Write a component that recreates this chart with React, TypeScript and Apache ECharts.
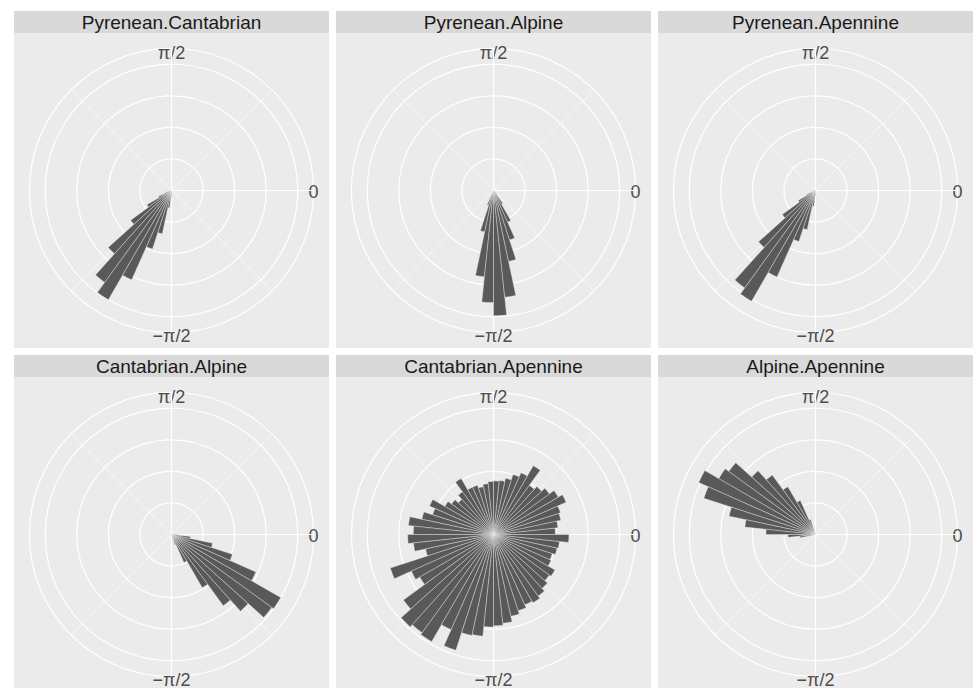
import React, { useEffect, useRef } from 'react';
import * as echarts from 'echarts';

const FONT = '"Liberation Sans", Arial, Helvetica, sans-serif';

// facet strip titles
const panelNames = [
  'Pyrenean.Cantabrian',
  'Pyrenean.Alpine',
  'Pyrenean.Apennine',
  'Cantabrian.Alpine',
  'Cantabrian.Apennine',
  'Alpine.Apennine',
];

// 60 angular bins of 6 degrees; category = bin centre in degrees (-177 ... 177)
const binCenters = Array.from({ length: 60 }, (_, i) => String(-177 + 6 * i));

// theta tick breaks (degrees) and their labels
const thetaBreaks = [-90, 0, 90];
const thetaLabels = ['−π/2', '0', 'π/2'];
const thetaLabelStyle = ['b', 'r', 't'];

// radius grid breaks (circles) and outer limit
const radiusMax = 4.5;
const radiusStep = 1;

// bar heights per bin (bin order -177 ... 177)
const pyreneanCantabrian = [
  0, 0, 0, 0.2, 0.45, 0.9, 1.6, 2.7, 3.6, 4.0,
  3.1, 1.95, 1.4, 0.55, 0.2, 0, 0, 0, 0, 0,
  0, 0, 0, 0, 0, 0, 0, 0, 0, 0,
  0, 0, 0, 0, 0, 0, 0, 0, 0, 0,
  0, 0, 0, 0, 0, 0, 0, 0, 0, 0,
  0, 0, 0, 0, 0, 0, 0, 0, 0, 0,
];
const pyreneanAlpine = [
  0, 0, 0, 0, 0, 0, 0, 0, 0, 0,
  0, 0.5, 1.34, 2.75, 3.55, 3.97, 3.4, 2.3, 1.65, 1.1,
  0.5, 0.15, 0, 0, 0, 0, 0, 0, 0, 0,
  0, 0, 0, 0, 0, 0, 0, 0, 0, 0,
  0, 0, 0, 0, 0, 0, 0, 0, 0, 0,
  0, 0, 0, 0, 0, 0, 0, 0, 0, 0,
];
const pyreneanApennine = [
  0, 0, 0, 0, 0.3, 0.63, 1.3, 2.43, 3.82, 4.05,
  3.0, 1.7, 1.27, 0.5, 0.15, 0, 0, 0, 0, 0,
  0, 0, 0, 0, 0, 0, 0, 0, 0, 0,
  0, 0, 0, 0, 0, 0, 0, 0, 0, 0,
  0, 0, 0, 0, 0, 0, 0, 0, 0, 0,
  0, 0, 0, 0, 0, 0, 0, 0, 0, 0,
];
const cantabrianAlpine = [
  0, 0, 0, 0, 0, 0, 0, 0, 0, 0,
  0, 0, 0, 0, 0, 0, 0, 0, 0.35, 0.97,
  1.95, 2.79, 3.27, 3.93, 4.0, 2.93, 2.03, 1.33, 0.6, 0.2,
  0, 0, 0, 0, 0, 0, 0, 0, 0, 0,
  0, 0, 0, 0, 0, 0, 0, 0, 0, 0,
  0, 0, 0, 0, 0, 0, 0, 0, 0, 0,
];
const cantabrianApennine = [
  2.72, 2.55, 2.2, 3.44, 2.85, 2.7, 3.53, 3.94, 3.85, 3.92,
  3.3, 3.86, 3.27, 3.24, 2.93, 2.89, 2.83, 2.65, 2.54, 2.44,
  2.5, 2.41, 2.3, 2.19, 2.25, 2.0, 1.96, 2.06, 2.1, 2.39,
  1.96, 2.05, 2.18, 2.23, 2.52, 2.37, 2.19, 2.05, 1.93, 2.52,
  2.14, 2.0, 1.82, 1.72, 1.7, 1.68, 1.62, 1.55, 1.64, 1.64,
  2.05, 1.67, 1.5, 1.64, 1.78, 2.22, 2.03, 2.32, 2.71, 2.54,
];
const alpineApennine = [
  0.87, 0.5, 0, 0, 0, 0, 0, 0, 0, 0,
  0, 0, 0, 0, 0, 0, 0, 0, 0, 0,
  0, 0, 0, 0, 0, 0, 0, 0, 0, 0,
  0, 0, 0, 0, 0, 0, 0, 0, 0, 0,
  0, 0, 0, 0, 0, 0, 0, 0, 0.5, 1.18,
  1.75, 2.33, 2.72, 3.4, 3.54, 4.05, 3.72, 2.8, 2.25, 1.57,
];

const panelValues = [
  pyreneanCantabrian,
  pyreneanAlpine,
  pyreneanApennine,
  cantabrianAlpine,
  cantabrianApennine,
  alpineApennine,
];

// layout (pixels)
const W = 973;
const H = 688;
const panelLefts = [14, 336, 658];
const panelTops = [33, 377];
const PANEL_W = 315;
const PANEL_H = 315;
const STRIP_H = 22;
const OUTER_R = 142;
const STRIP_SIZE = 19;
const LABEL_SIZE = 18;

function buildOption() {
  const polar: any[] = [];
  const angleAxis: any[] = [];
  const radiusAxis: any[] = [];
  const series: any[] = [];
  const title: any[] = [];
  const graphic: any[] = [];

  const labelRich = {
    t: { fontSize: LABEL_SIZE, color: '#4D4D4D', fontFamily: FONT, padding: [0, 0, 0, 0] },
    r: { fontSize: LABEL_SIZE, color: '#4D4D4D', fontFamily: FONT, padding: [3, 0, 0, 8] },
    b: { fontSize: LABEL_SIZE, color: '#4D4D4D', fontFamily: FONT, padding: [7, 0, 0, 0] },
  };

  panelNames.forEach((name, k) => {
    const col = k % 3;
    const row = Math.floor(k / 3);
    const left = panelLefts[col];
    const top = panelTops[row];
    const cx = left + PANEL_W / 2;
    const cy = top + PANEL_H / 2;

    graphic.push({
      type: 'rect',
      silent: true,
      z: -10,
      shape: { x: left, y: top - STRIP_H, width: PANEL_W, height: STRIP_H },
      style: { fill: '#D9D9D9' },
    });
    graphic.push({
      type: 'rect',
      silent: true,
      z: -10,
      shape: { x: left, y: top, width: PANEL_W, height: PANEL_H },
      style: { fill: '#EBEBEB' },
    });

    title.push({
      text: name,
      left: cx,
      top: top - STRIP_H / 2,
      textAlign: 'center',
      textVerticalAlign: 'middle',
      padding: 0,
      textStyle: { fontSize: STRIP_SIZE, fontWeight: 'normal', color: '#1A1A1A', fontFamily: FONT },
    });

    const gi = 2 * k;
    const bi = 2 * k + 1;
    polar.push({ center: [cx, cy], radius: OUTER_R });
    polar.push({ center: [cx, cy], radius: OUTER_R });

    // grid / labels polar
    angleAxis.push({
      polarIndex: gi,
      type: 'value',
      min: -180,
      max: 180,
      interval: 90,
      startAngle: 180,
      clockwise: false,
      silent: true,
      axisLine: { show: false },
      axisTick: { show: false },
      axisLabel: {
        show: true,
        margin: -13,
        color: '#4D4D4D',
        fontSize: LABEL_SIZE,
        fontFamily: FONT,
        formatter: (v: number) => {
          const idx = thetaBreaks.indexOf(Math.round(v));
          return idx >= 0 ? `{${thetaLabelStyle[idx]}|${thetaLabels[idx]}}` : '';
        },
        rich: labelRich,
      },
      splitLine: {
        show: true,
        lineStyle: { color: ['rgba(255,255,255,0)', '#FFFFFF', '#FFFFFF', '#FFFFFF'], width: 1.2 },
      },
      minorTick: { show: false, splitNumber: 2 },
      minorSplitLine: { show: true, lineStyle: { color: '#FFFFFF', width: 0.6 } },
    });
    radiusAxis.push({
      polarIndex: gi,
      type: 'value',
      min: 0,
      max: radiusMax,
      interval: radiusStep,
      silent: true,
      axisLine: { show: false },
      axisTick: { show: false },
      axisLabel: { show: false },
      splitLine: { show: true, lineStyle: { color: '#FFFFFF', width: 1.2 } },
    });

    // bars polar
    angleAxis.push({
      polarIndex: bi,
      type: 'category',
      data: binCenters,
      startAngle: 180,
      clockwise: false,
      boundaryGap: true,
      silent: true,
      axisLine: { show: false },
      axisTick: { show: false },
      axisLabel: { show: false },
      splitLine: { show: false },
    });
    radiusAxis.push({
      polarIndex: bi,
      type: 'value',
      min: 0,
      max: radiusMax,
      silent: true,
      axisLine: { show: false },
      axisTick: { show: false },
      axisLabel: { show: false },
      splitLine: { show: false },
    });

    series.push({
      type: 'bar',
      name: name,
      coordinateSystem: 'polar',
      polarIndex: bi,
      data: panelValues[k],
      barCategoryGap: '0%',
      silent: true,
      itemStyle: { color: '#595959', borderColor: '#EBEBEB', borderWidth: 0.4 },
    });
  });

  return {
    animation: false,
    backgroundColor: '#FFFFFF',
    textStyle: { fontFamily: FONT },
    title,
    graphic: { elements: graphic },
    polar,
    angleAxis,
    radiusAxis,
    series,
  };
}

export default function App() {
  const ref = useRef<HTMLDivElement>(null);
  useEffect(() => {
    if (!ref.current) return;
    const chart = echarts.init(ref.current, undefined, { renderer: 'svg' });
    chart.setOption(buildOption() as any);
    return () => chart.dispose();
  }, []);
  return (
    <div
      ref={ref}
      style={{ position: 'fixed', left: 0, top: 0, width: W, height: H }}
    />
  );
}
